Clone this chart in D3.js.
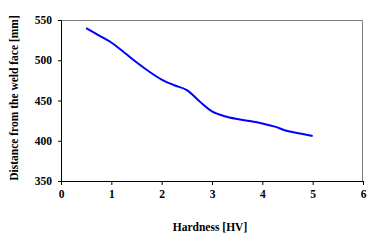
<!DOCTYPE html>
<html><head><meta charset="utf-8">
<script src="https://cdn.jsdelivr.net/npm/d3@7"></script>
<style>body{margin:0;background:#fff}svg{display:block}</style>
</head><body>
<script>
const hardness = [0.5, 0.75, 1, 1.25, 1.5, 1.75, 2, 2.25, 2.5, 2.75, 3, 3.25, 3.5, 3.75, 4, 4.25, 4.5, 4.75, 5];
const distance = [540, 531, 522, 510, 497.5, 486, 476, 469, 463, 449, 436.5, 430.5, 427, 424.5, 421.5, 417.5, 412, 409, 406];
const xTicks = [0, 1, 2, 3, 4, 5, 6];
const yTicks = [350, 400, 450, 500, 550];

const W = 378, H = 240;
const m = {l: 61, r: 15, t: 20, b: 59};
const svg = d3.select("body").append("svg").attr("width", W).attr("height", H);
const x = d3.scaleLinear().domain([0, 6]).range([m.l, W - m.r]);
const y = d3.scaleLinear().domain([350, 550]).range([H - m.b, m.t]);

// top/right border
svg.append("path")
  .attr("d", `M${x(0)},${y(550)+0.5}H${x(6)-0.5}V${y(350)}`)
  .attr("fill", "none").attr("stroke", "#808080").attr("stroke-width", 1);

const font = "'Liberation Serif','Times New Roman',serif";
const gx = svg.append("g").attr("transform", `translate(0,${y(350)})`)
  .call(d3.axisBottom(x).tickValues(xTicks).tickSize(4).tickPadding(5).tickFormat(d3.format("d")));
const gy = svg.append("g").attr("transform", `translate(${x(0)},0)`)
  .call(d3.axisLeft(y).tickValues(yTicks).tickSize(3).tickPadding(6).tickFormat(d3.format("d")));
[gx, gy].forEach(g => {
  g.select(".domain").attr("stroke", "#000");
  g.selectAll(".tick line").attr("stroke", "#000");
  g.selectAll("text").attr("font-family", font).attr("font-weight", "bold").attr("font-size", 11.5).attr("fill", "#000");
});

svg.append("path").datum(hardness.map((h, i) => [h, distance[i]]))
  .attr("d", d3.line().x(d => x(d[0])).y(d => y(d[1])).curve(d3.curveCatmullRom))
  .attr("fill", "none").attr("stroke", "#0000ff").attr("stroke-width", 2);

svg.append("text").attr("x", 210).attr("y", 231)
  .attr("text-anchor", "middle").attr("font-family", font).attr("font-weight", "bold").attr("font-size", 11.5)
  .text("Hardness [HV]");
svg.append("text").attr("transform", `translate(17.5,98) rotate(-90)`)
  .attr("text-anchor", "middle").attr("font-family", font).attr("font-weight", "bold").attr("font-size", 11.5)
  .text("Distance from the weld face [mm]");
</script>
</body></html>
